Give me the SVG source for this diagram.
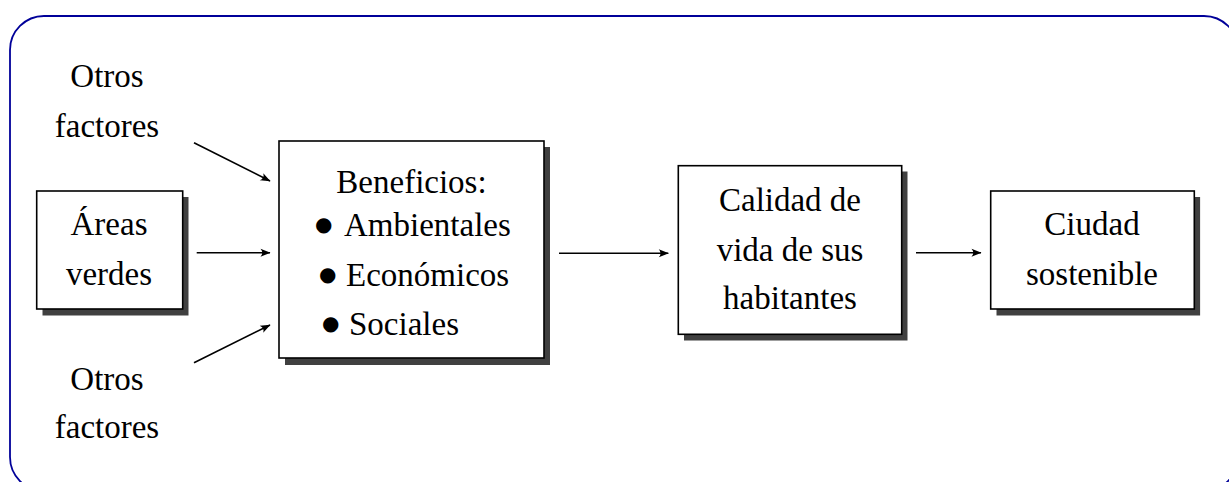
<svg xmlns="http://www.w3.org/2000/svg" width="1229" height="482" viewBox="0 0 1229 482">
<defs>
<style>
.frame{fill:none;stroke:#000099;stroke-width:1.8}
.box{fill:#fff;stroke:#000;stroke-width:1.6}
.shadow{fill:#404040}
.c{text-anchor:middle}
.b{font-family:"DejaVu Sans",sans-serif;font-size:20px}
.conn line{stroke:#000;stroke-width:1.6;marker-end:url(#ah)}
</style>
<marker id="ah" markerWidth="12" markerHeight="10" viewBox="-10 -5 12 10" refX="0" refY="0" orient="auto" markerUnits="userSpaceOnUse">
<path d="M0.5,0 L-9.5,-4 Q-6,0 -9.5,4 Z" fill="#000"/>
</marker>
</defs>
<rect x="10" y="16" width="1228" height="475" rx="34" ry="34" class="frame"/>

<g font-family="'Liberation Serif', 'DejaVu Serif', 'Times New Roman', serif" font-size="33" fill="#000">
<g id="otros-top">
<text class="c" x="107" y="87">Otros</text>
<text class="c" x="107" y="137">factores</text>
</g>
<g id="otros-bottom">
<text class="c" x="107" y="390">Otros</text>
<text class="c" x="107" y="438">factores</text>
</g>

<g id="areas">
<rect class="shadow" x="42.5" y="197" width="146" height="118.5"/>
<rect class="box" x="36.7" y="191" width="146" height="118"/>
<text class="c" x="109" y="235">Áreas</text>
<text class="c" x="109" y="285">verdes</text>
</g>

<g id="beneficios">
<rect class="shadow" x="285" y="147" width="265" height="218"/>
<rect class="box" x="279" y="141" width="265" height="217"/>
<text class="c" x="411.5" y="193">Beneficios:</text>
<text x="315" y="236"><tspan class="b" dy="-5.5">●</tspan><tspan x="344" dy="5.5">Ambientales</tspan></text>
<text x="319" y="286"><tspan class="b" dy="-5.5">●</tspan><tspan x="346" dy="5.5">Económicos</tspan></text>
<text x="322" y="335"><tspan class="b" dy="-5.5">●</tspan><tspan x="349" dy="5.5">Sociales</tspan></text>
</g>

<g id="calidad">
<rect class="shadow" x="684" y="171.5" width="223.5" height="169"/>
<rect class="box" x="678.3" y="165.7" width="223.4" height="168.6"/>
<text class="c" x="790" y="211">Calidad de</text>
<text class="c" x="790" y="261">vida de sus</text>
<text class="c" x="790" y="309">habitantes</text>
</g>

<g id="ciudad">
<rect class="shadow" x="996.5" y="197" width="203.6" height="118.5"/>
<rect class="box" x="990.7" y="191" width="203.6" height="118"/>
<text class="c" x="1092" y="235">Ciudad</text>
<text class="c" x="1092" y="285">sostenible</text>
</g>
</g>

<g id="connectors" class="conn">
<line x1="194" y1="142.7" x2="270" y2="181"/>
<line x1="196.7" y1="252.7" x2="270" y2="252.7"/>
<line x1="194" y1="362.7" x2="270" y2="325"/>
<line x1="559" y1="253.3" x2="668.3" y2="253.3"/>
<line x1="916" y1="252.7" x2="981" y2="252.7"/>
</g>
</svg>
